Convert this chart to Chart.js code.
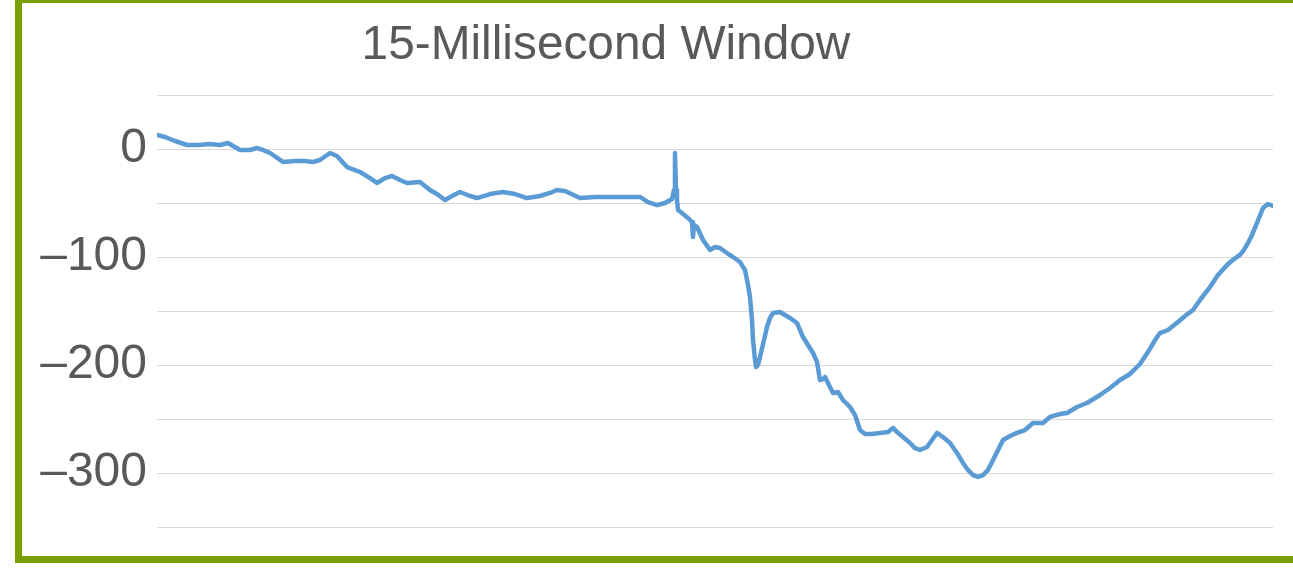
<!DOCTYPE html>
<html>
<head>
<meta charset="utf-8">
<script src="https://cdn.jsdelivr.net/npm/chart.js@4/dist/chart.umd.min.js"></script>
<style>
  html, body { margin: 0; padding: 0; background: #ffffff; }
  #wrap { position: relative; width: 1293px; height: 570px; overflow: hidden; background: #fff; }
  #frame { position: absolute; left: 15px; top: -4px; width: 1300px; height: 567px;
           border: 7px solid #78A000; box-sizing: border-box; }
  #title { position: absolute; left: 306px; top: 19px; width: 600px; text-align: center;
           font-family: "Liberation Sans", Arial, sans-serif; font-size: 47.8px; line-height: 1;
           color: #595959; white-space: nowrap; }
  #c { position: absolute; left: 0; top: 0; }
</style>
</head>
<body>
<div id="wrap">
  <canvas id="c" width="1293" height="570"></canvas>
  <div id="frame"></div>
  <div id="title">15-Millisecond Window</div>
</div>
<script>
// time in milliseconds
const timeMs = [
  0, 0.108, 0.242, 0.403, 0.551, 0.712, 0.847, 0.954, 1.116, 1.250,
  1.344, 1.425, 1.519, 1.694, 1.855, 1.989, 2.097, 2.191, 2.325, 2.419,
  2.554, 2.729, 2.863, 2.957, 3.065, 3.159, 3.266, 3.360, 3.535, 3.669,
  3.763, 3.871, 3.965, 4.073, 4.207, 4.301, 4.476, 4.651, 4.812, 4.973,
  5.148, 5.282, 5.376, 5.484, 5.685, 5.887, 6.129, 6.358, 6.492, 6.600,
  6.721, 6.828, 6.922, 6.949, 6.962, 6.976, 6.989, 7.003, 7.070, 7.137,
  7.191, 7.204, 7.218, 7.258, 7.339, 7.433, 7.500, 7.567, 7.661, 7.742,
  7.836, 7.903, 7.944, 7.970, 7.997, 8.011, 8.038, 8.051, 8.078, 8.105,
  8.159, 8.199, 8.239, 8.280, 8.374, 8.441, 8.508, 8.602, 8.683, 8.750,
  8.817, 8.871, 8.911, 8.952, 8.979, 9.032, 9.086, 9.153, 9.220, 9.315,
  9.382, 9.449, 9.516, 9.610, 9.718, 9.825, 9.892, 9.946, 10.027, 10.121,
  10.188, 10.255, 10.349, 10.417, 10.484, 10.565, 10.659, 10.753, 10.833, 10.901,
  10.968, 11.035, 11.102, 11.169, 11.237, 11.304, 11.371, 11.465, 11.559, 11.667,
  11.774, 11.909, 12.003, 12.137, 12.231, 12.366, 12.500, 12.675, 12.809, 12.944,
  13.078, 13.212, 13.320, 13.414, 13.481, 13.589, 13.723, 13.817, 13.925, 14.019,
  14.153, 14.261, 14.382, 14.476, 14.556, 14.610, 14.664, 14.718, 14.785, 14.866,
  14.933, 15.000
];
// signal values
const signal = [
  13.0, 11.1, 7.4, 3.7, 3.7, 4.6, 3.7, 5.6, -0.9, -0.9,
  0.9, -0.9, -3.7, -12.0, -11.1, -11.1, -12.0, -10.2, -3.7, -6.5,
  -16.7, -21.3, -26.9, -31.5, -26.9, -25.0, -28.7, -31.5, -30.6, -38.0,
  -41.7, -47.2, -43.5, -39.8, -43.5, -45.4, -41.7, -39.8, -41.7, -45.4,
  -43.5, -40.7, -38.0, -38.9, -45.4, -44.4, -44.4, -44.4, -44.4, -49.1,
  -51.9, -50.0, -46.3, -38.0, -3.7, -38.0, -47.2, -56.5, -60.2, -63.9,
  -67.6, -81.5, -70.4, -72.2, -84.3, -93.5, -90.7, -91.7, -96.3, -100.0,
  -104.6, -112.0, -125.9, -137.0, -158.3, -176.9, -195.4, -201.9, -200.0, -192.6,
  -176.9, -164.8, -156.5, -151.9, -150.9, -153.7, -156.5, -161.1, -174.1, -181.5,
  -188.9, -197.2, -213.9, -213.0, -211.1, -218.5, -225.9, -225.0, -232.4, -238.9,
  -246.3, -260.2, -263.9, -263.9, -263.0, -262.0, -258.3, -262.0, -266.7, -272.2,
  -276.9, -278.7, -275.9, -269.4, -262.9, -266.7, -272.2, -281.5, -290.7, -297.2,
  -301.9, -303.7, -301.9, -297.2, -288.0, -278.7, -269.4, -265.7, -262.9, -260.2,
  -253.7, -253.7, -248.1, -245.4, -244.4, -238.9, -235.2, -227.8, -221.3, -213.9,
  -208.3, -199.1, -188.0, -176.9, -170.4, -167.6, -160.2, -154.6, -149.1, -139.8,
  -127.8, -116.7, -107.4, -101.9, -98.1, -93.5, -87.0, -79.6, -68.5, -54.6,
  -50.9, -52.8
];
const yMin = -350, yMax = 50, yStep = 50, labelStep = 100;

const points = timeMs.map((t, i) => ({ x: t, y: signal[i] }));

new Chart(document.getElementById('c'), {
  type: 'line',
  data: {
    datasets: [{
      data: points,
      borderColor: '#5B9BD5',
      borderWidth: 4.5,
      pointRadius: 0,
      tension: 0,
      fill: false,
      borderJoinStyle: 'round',
      borderCapStyle: 'round'
    }]
  },
  options: {
    responsive: false,
    animation: false,
    events: [],
    layout: { padding: { left: 15, right: 20, top: 95, bottom: 43 } },
    plugins: { legend: { display: false }, tooltip: { enabled: false }, title: { display: false } },
    scales: {
      x: { type: 'linear', min: 0, max: 15, display: false },
      y: {
        min: yMin, max: yMax,
        afterFit: (s) => { s.width = 142; },
        border: { display: false },
        grid: { color: '#D9D9D9', lineWidth: 1, drawTicks: false },
        ticks: {
          stepSize: yStep,
          autoSkip: false,
          padding: 10,
          color: '#595959',
          font: { family: '"Liberation Sans", Arial, sans-serif', size: 48 },
          callback: (v) => (v % labelStep === 0 && v !== yMax) ? (v < 0 ? '\u2013' + Math.abs(v) : String(v)) : ''
        }
      }
    }
  }
});
</script>
</body>
</html>
